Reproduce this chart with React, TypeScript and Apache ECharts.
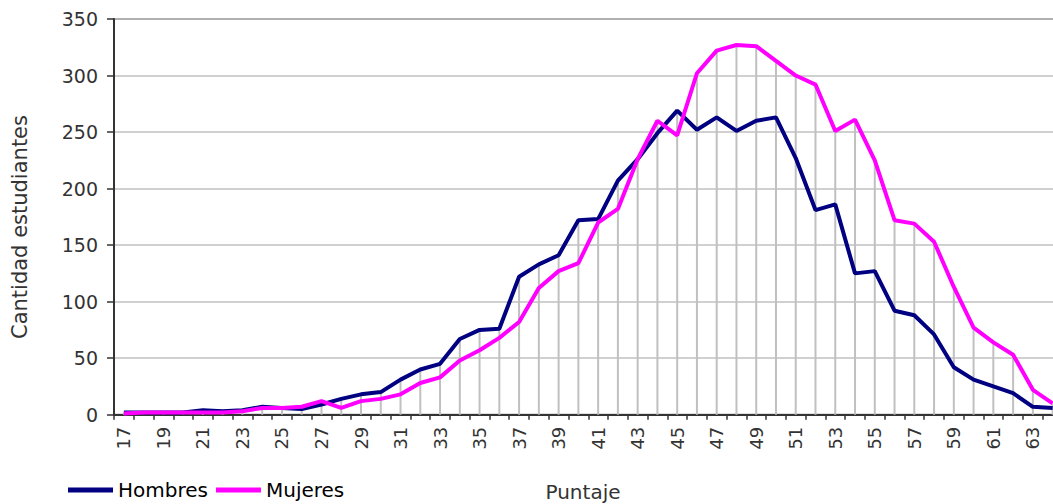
import React, { useEffect, useRef } from "react";
import * as echarts from "echarts";

const categories = [
  "17", "18", "19", "20", "21", "22", "23", "24", "25", "26", "27", "28",
  "29", "30", "31", "32", "33", "34", "35", "36", "37", "38", "39", "40",
  "41", "42", "43", "44", "45", "46", "47", "48", "49", "50", "51", "52",
  "53", "54", "55", "56", "57", "58", "59", "60", "61", "62", "63", "64",
];

const hombres = [
  2, 2, 2, 2, 4, 3, 4, 7, 6, 5, 9, 14,
  18, 20, 31, 40, 45, 67, 75, 76, 122, 133, 141, 172,
  173, 207, 226, 249, 269, 252, 263, 251, 260, 263, 227, 181,
  186, 125, 127, 92, 88, 71, 42, 31, 25, 19, 7, 6,
];

const mujeres = [
  1, 2, 2, 2, 2, 2, 3, 6, 6, 7, 12, 6,
  12, 14, 18, 28, 33, 48, 57, 68, 82, 112, 127, 134,
  170, 182, 226, 260, 247, 302, 322, 327, 326, 313, 300, 292,
  251, 261, 225, 172, 169, 153, 113, 77, 64, 53, 22, 10,
];

const seriesNames = ["Hombres", "Mujeres"];
const seriesColors = ["#000080", "#FF00FF"];
const xAxisName = "Puntaje";
const yAxisName = "Cantidad estudiantes";
const yMin = 0;
const yMax = 350;
const yStep = 50;

const FONT = "DejaVu Sans";

export default function App() {
  const ref = useRef<HTMLDivElement>(null);

  useEffect(() => {
    if (!ref.current) return;
    const chart = echarts.init(ref.current, null, { renderer: "svg" });
    const dropLines = categories.map((_, i) => Math.max(hombres[i], mujeres[i]));

    chart.setOption({
      animation: false,
      backgroundColor: "#ffffff",
      textStyle: { fontFamily: FONT },
      grid: {
        left: 114,
        top: 19,
        width: 948.5,
        height: 395.7,
        show: true,
        borderColor: "#808080",
        borderWidth: 2,
        backgroundColor: "transparent",
      },
      legend: {
        data: seriesNames,
        left: 63,
        top: 480,
        padding: [0, 5, 0, 5],
        icon: "rect",
        itemWidth: 45,
        itemHeight: 5,
        itemGap: 8,
        textStyle: { fontFamily: FONT, fontSize: 20, color: "#000" },
      },
      xAxis: {
        type: "category",
        data: categories,
        boundaryGap: true,
        axisLine: { show: true, lineStyle: { color: "#333", width: 2 } },
        axisTick: { show: true, interval: 0, length: 5, lineStyle: { color: "#333", width: 1.5 } },
        axisLabel: {
          interval: 1,
          rotate: 90,
          margin: 12,
          fontFamily: FONT,
          fontSize: 18,
          color: "#333",
        },
        splitLine: { show: false },
      },
      yAxis: {
        type: "value",
        min: yMin,
        max: yMax,
        interval: yStep,
        axisLine: { show: true, lineStyle: { color: "#333", width: 2 } },
        axisTick: { show: true, length: 7, lineStyle: { color: "#333", width: 1.5 } },
        axisLabel: { margin: 16, fontFamily: FONT, fontSize: 19, color: "#333" },
        splitLine: { show: true, lineStyle: { color: "#c0c0c0", width: 1.5 } },
      },
      graphic: [
        {
          type: "text",
          x: 583,
          y: 492,
          style: {
            text: xAxisName,
            fontFamily: FONT,
            fontSize: 20,
            fill: "#333",
            align: "center",
            verticalAlign: "middle",
          },
        },
        {
          type: "text",
          x: 20,
          y: 227,
          rotation: Math.PI / 2,
          style: {
            text: yAxisName,
            fontFamily: FONT,
            fontSize: 21,
            fill: "#333",
            align: "center",
            verticalAlign: "middle",
          },
        },
      ],
      series: [
        {
          type: "bar",
          name: "drop",
          data: dropLines,
          barWidth: 2,
          silent: true,
          itemStyle: { color: "#c0c0c0" },
          z: 1,
        },
        {
          type: "line",
          name: seriesNames[0],
          data: hombres,
          showSymbol: false,
          symbol: "none",
          lineStyle: { color: seriesColors[0], width: 4 },
          itemStyle: { color: seriesColors[0] },
          z: 3,
        },
        {
          type: "line",
          name: seriesNames[1],
          data: mujeres,
          showSymbol: false,
          symbol: "none",
          lineStyle: { color: seriesColors[1], width: 4 },
          itemStyle: { color: seriesColors[1] },
          z: 4,
        },
      ],
    });

    return () => chart.dispose();
  }, []);

  return (
    <div
      style={{
        position: "absolute",
        left: 0,
        top: 0,
        width: 1053,
        height: 504,
        overflow: "hidden",
        background: "#fff",
      }}
    >
      <div ref={ref} style={{ width: 1070, height: 504 }} />
    </div>
  );
}
